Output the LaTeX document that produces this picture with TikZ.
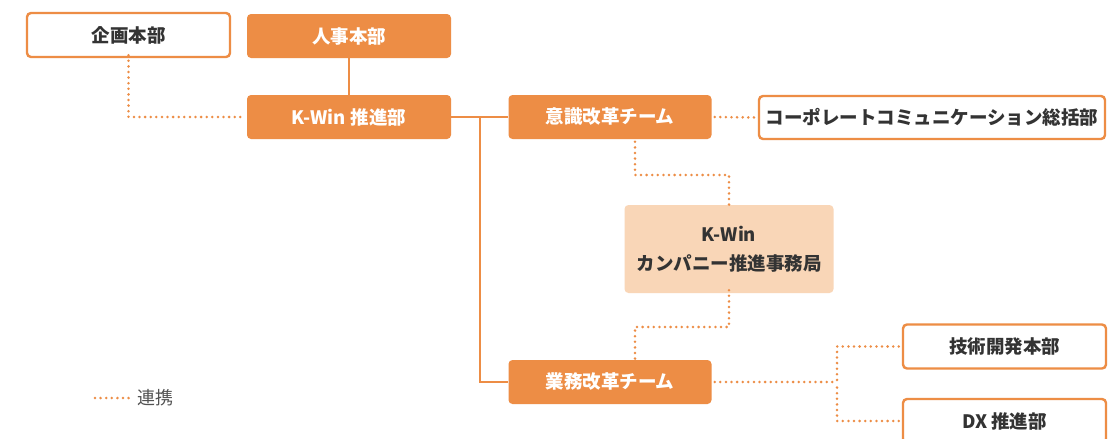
\documentclass[tikz,border=0pt]{standalone}
\usepackage{fontspec}
\newfontfamily\jp{Noto Sans CJK JP}
\definecolor{org}{HTML}{ED8D45}
\definecolor{lightorg}{HTML}{F9D6B7}
\definecolor{txt}{HTML}{333333}
\begin{document}
\begin{tikzpicture}[x=1pt,y=-1pt,
  box/.style={rectangle, rounded corners=4pt, inner sep=0pt, font=\jp\bfseries\fontsize{18.5}{22}\selectfont},
  filledbox/.style={box, fill=org, text=white},
  outlinebox/.style={box, draw=org, line width=2.4pt, fill=white, text=txt},
  lightbox/.style={box, fill=lightorg, text=txt, align=center, font=\jp\bfseries\fontsize{18.5}{29}\selectfont},
  solidline/.style={draw=org, line width=2pt},
  dotline/.style={draw=org, line width=2.8pt, dash pattern=on 0pt off 5.6pt, line cap=round}
]
\useasboundingbox (0,0) rectangle (1109,439);
\clip (0,0) rectangle (1109,439);
\fill[white] (0,0) rectangle (1109,439);

\node[outlinebox, minimum width=203pt, minimum height=44pt] (kikaku) at (128.5,35) {企画本部};
\node[filledbox, minimum width=204pt, minimum height=44pt] (jinji) at (349,36) {人事本部};
\node[filledbox, minimum width=204pt, minimum height=44pt] (kwin) at (349,117) {K-Win\hspace{0.25em}推進部};
\node[filledbox, minimum width=203pt, minimum height=44pt] (ishiki) at (610,117) {意識改革チーム};
\node[outlinebox, minimum width=346pt, minimum height=43pt] (corp) at (932,117.5) {コーポレートコミュニケーション総括部};
\node[lightbox, minimum width=209pt, minimum height=88pt] (company) at (729,249) {K-Win\\カンパニー推進事務局};
\node[filledbox, minimum width=203pt, minimum height=44pt] (gyomu) at (610,382) {業務改革チーム};
\node[outlinebox, minimum width=203pt, minimum height=44pt] (gijutsu) at (1004.5,346.5) {技術開発本部};
\node[outlinebox, minimum width=203pt, minimum height=44pt] (dx) at (1004.5,421) {DX\hspace{0.2em}推進部};

\coordinate (trunk) at (480,117);
\coordinate (j1) at (635,175);
\coordinate (j2) at (635,327);
\coordinate (j3) at (837,382);

% solid connectors
\draw[solidline] (jinji.south) -- (kwin.north);
\draw[solidline] (kwin.east) -- (ishiki.west);
\draw[solidline] (trunk) |- (gyomu.west);

% dotted connectors
\draw[dotline] ([yshift=3pt]kikaku.south) |- ([xshift=-2pt]kwin.west);
\draw[dotline] ([xshift=3pt]ishiki.east) -- ([xshift=-3pt]corp.west);
\draw[dotline] ([yshift=3pt]ishiki.south -| j1) -- (j1) -| ([yshift=-3pt]company.north);
\draw[dotline] ([yshift=3pt]company.south) |- (j2) -- ([yshift=-2pt]gyomu.north -| j2);
\draw[dotline] ([xshift=3pt]gyomu.east) -- (j3);
\draw[dotline] ([xshift=-3pt]gijutsu.west) -| (j3);
\draw[dotline] ([xshift=-3pt]dx.west) -| (j3);

% legend
\coordinate (l1) at (95,398);
\node[anchor=west, inner sep=0pt, text=txt!85, font=\jp\fontsize{18}{22}\selectfont] (leg) at (137,398) {連携};
\draw[dotline] (l1) -- ([xshift=-4pt]leg.west);
\end{tikzpicture}
\end{document}
